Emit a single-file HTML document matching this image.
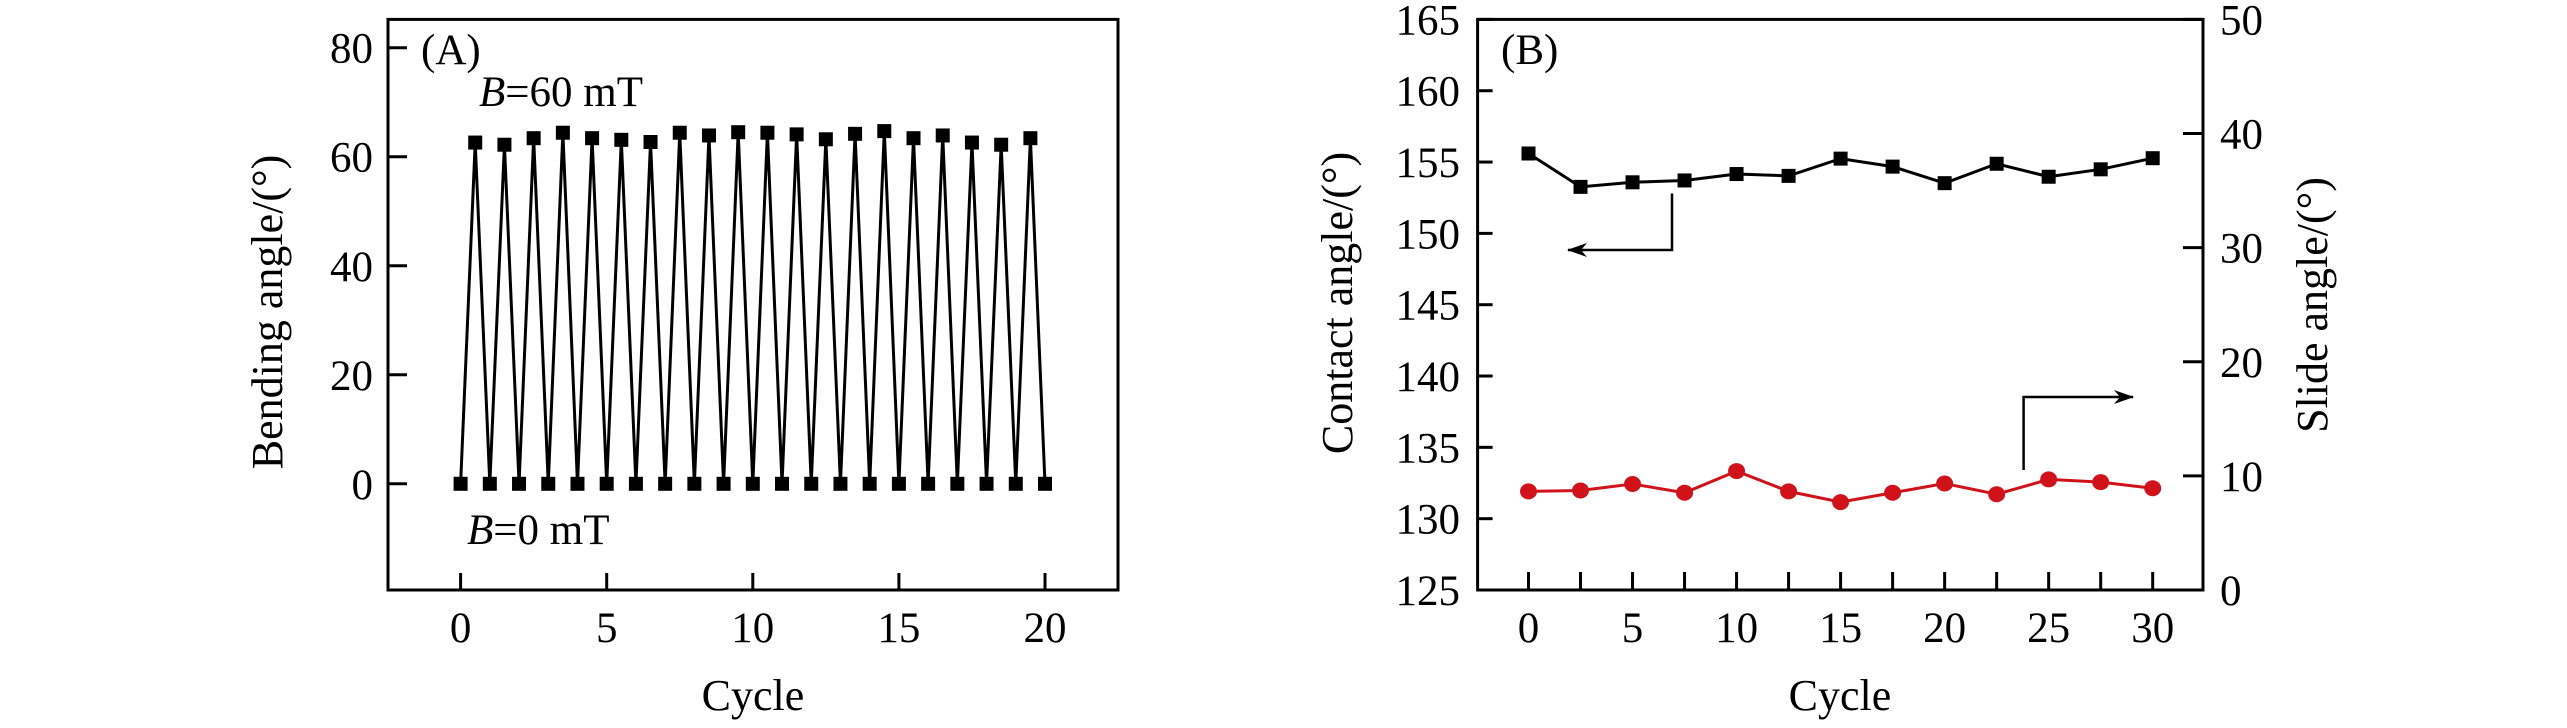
<!DOCTYPE html>
<html><head><meta charset="utf-8">
<style>
html,body{margin:0;padding:0;background:#fff;}
svg{display:block;}
text{font-family:"Liberation Serif","DejaVu Serif",serif;fill:#000;}
</style></head>
<body>
<svg id="fig" width="2567" height="728" viewBox="0 0 2567 728" xmlns="http://www.w3.org/2000/svg">
  <defs>
    <marker id="arr" viewBox="0 0 20 14" refX="19" refY="7" markerWidth="20" markerHeight="14" markerUnits="userSpaceOnUse" orient="auto">
      <path d="M0,0 L20,7 L0,14 L6,7 Z" fill="#000"/>
    </marker>
  </defs>
  <g id="panelA"></g>
  <g id="panelB"></g>
</svg>
<script>
// ---- Panel A data ----
const aCycles = [0,0.5,1,1.5,2,2.5,3,3.5,4,4.5,5,5.5,6,6.5,7,7.5,8,8.5,9,9.5,10,10.5,11,11.5,12,12.5,13,13.5,14,14.5,15,15.5,16,16.5,17,17.5,18,18.5,19,19.5,20];
const aBending = [0,62.6,0,62.2,0,63.4,0,64.4,0,63.4,0,63.1,0,62.7,0,64.4,0,63.9,0,64.5,0,64.4,0,64.1,0,63.2,0,64.2,0,64.7,0,63.4,0,63.9,0,62.6,0,62.2,0,63.4,0];
const aXTicks = [0,5,10,15,20];
const aYTicks = [0,20,40,60,80];
// ---- Panel B data ----
const bCycles = [0,2.5,5,7.5,10,12.5,15,17.5,20,22.5,25,27.5,30];
const bContact = [155.6,153.26,153.58,153.71,154.16,154.03,155.24,154.68,153.52,154.88,153.97,154.49,155.27];
const bSlide = [8.64,8.72,9.29,8.52,10.42,8.64,7.70,8.52,9.33,8.39,9.69,9.45,8.92];
const bXTicks = [0,5,10,15,20,25,30];
const bXMinor = [2.5,7.5,12.5,17.5,22.5,27.5];
const bYLeftTicks = [125,130,135,140,145,150,155,160,165];
const bYRightTicks = [0,10,20,30,40,50];

const NS = "http://www.w3.org/2000/svg";
const FS = 43, TFS = 44;
function mk(parent, tag, attrs, txt){
  const e = document.createElementNS(NS, tag);
  for (const k in attrs) e.setAttribute(k, attrs[k]);
  if (txt !== undefined) e.textContent = txt;
  parent.appendChild(e);
  return e;
}
function lin(d0,d1,r0,r1){ return v => r0 + (v-d0)*(r1-r0)/(d1-d0); }

// ================= Panel A =================
(function(){
  const g = document.getElementById('panelA');
  const L=388,R=1118,T=19.4,B=590;
  const x = lin(0,20,460.6,1045);
  const y = lin(0,80,483.8,47.7);
  const frame = mk(g,'rect',{x:L,y:T,width:R-L,height:B-T,fill:'none',stroke:'#000','stroke-width':3});
  
  
  aYTicks.forEach(v=>{
    const t = mk(g,'line',{x1:L,x2:L+19,y1:y(v),y2:y(v),stroke:'#000','stroke-width':3});
    
    
    const lb = mk(g,'text',{x:373,y:y(v)+15,'text-anchor':'end','font-size':FS},String(v));
    
    
  });
  aXTicks.forEach(v=>{
    const t = mk(g,'line',{x1:x(v),x2:x(v),y1:B,y2:B-17,stroke:'#000','stroke-width':3});
    
    
    const lb = mk(g,'text',{x:x(v),y:642,'text-anchor':'middle','font-size':FS},String(v));
    
    
  });
  const pts = aCycles.map((c,i)=>x(c)+','+y(aBending[i])).join(' ');
  const pl = mk(g,'polyline',{points:pts,fill:'none',stroke:'#000','stroke-width':3,'stroke-linejoin':'miter'});
  
  
  aCycles.forEach((c,i)=>{
    const m = mk(g,'rect',{x:x(c)-7,y:y(aBending[i])-7,width:14,height:14,fill:'#000'});
    
    
  });
  const xt = mk(g,'text',{x:753,y:710,'text-anchor':'middle','font-size':TFS},'Cycle');
  
  
  const yt = mk(g,'text',{x:0,y:0,'text-anchor':'middle','font-size':TFS,transform:'translate(282,312) rotate(-90)'},'Bending angle/(°)');
  
  
  const pa = mk(g,'text',{x:421,y:64,'font-size':FS},'(A)');
  
  
  const t1 = mk(g,'text',{x:479,y:106,'font-size':FS});
  
  
  mk(t1,'tspan',{'font-style':'italic'},'B');
  mk(t1,'tspan',{},'=60 mT');
  const t2 = mk(g,'text',{x:467,y:544,'font-size':FS});
  
  
  mk(t2,'tspan',{'font-style':'italic'},'B');
  mk(t2,'tspan',{},'=0 mT');
})();

// ================= Panel B =================
(function(){
  const g = document.getElementById('panelB');
  const L=1477.6,R=2203,T=19.4,B=590;
  const x = lin(0,30,1528.5,2152.7);
  const yl = lin(125,165,B,T);
  const yr = lin(0,50,B,T);
  const frame = mk(g,'rect',{x:L,y:T,width:R-L,height:B-T,fill:'none',stroke:'#000','stroke-width':3});
  
  
  bYLeftTicks.forEach(v=>{
    const t = mk(g,'line',{x1:L,x2:L+15,y1:yl(v),y2:yl(v),stroke:'#000','stroke-width':3});
    
    
    const lb = mk(g,'text',{x:1460,y:yl(v)+15,'text-anchor':'end','font-size':FS},String(v));
    
    
  });
  bYRightTicks.forEach(v=>{
    const t = mk(g,'line',{x1:R,x2:R-20,y1:yr(v),y2:yr(v),stroke:'#000','stroke-width':3});
    
    
    const lb = mk(g,'text',{x:2220,y:yr(v)+15,'text-anchor':'start','font-size':FS},String(v));
    
    
  });
  bXTicks.concat(bXMinor).forEach(v=>{
    const t = mk(g,'line',{x1:x(v),x2:x(v),y1:B,y2:B-18,stroke:'#000','stroke-width':3});
    
    
  });
  bXTicks.forEach(v=>{
    const lb = mk(g,'text',{x:x(v),y:642,'text-anchor':'middle','font-size':FS},String(v));
    
    
  });
  const p1 = mk(g,'polyline',{points:bCycles.map((c,i)=>x(c)+','+yl(bContact[i])).join(' '),fill:'none',stroke:'#000','stroke-width':3});
  
  
  bCycles.forEach((c,i)=>{
    const m = mk(g,'rect',{x:x(c)-7,y:yl(bContact[i])-7,width:14,height:14,fill:'#000'});
    
    
  });
  const p2 = mk(g,'polyline',{points:bCycles.map((c,i)=>x(c)+','+yr(bSlide[i])).join(' '),fill:'none',stroke:'#d0121b','stroke-width':3});
  
  
  bCycles.forEach((c,i)=>{
    const m = mk(g,'ellipse',{cx:x(c),cy:yr(bSlide[i]),rx:8.5,ry:8,fill:'#d0121b'});
    
    
  });
  const a1 = mk(g,'polyline',{points:'1672,193.5 1672,250 1568,250',fill:'none',stroke:'#000','stroke-width':2.5,'marker-end':'url(#arr)'});
  
  
  const a2 = mk(g,'polyline',{points:'2023.6,470 2023.6,397 2133,397',fill:'none',stroke:'#000','stroke-width':2.5,'marker-end':'url(#arr)'});
  
  
  const xt = mk(g,'text',{x:1840,y:710,'text-anchor':'middle','font-size':TFS},'Cycle');
  
  
  const yt = mk(g,'text',{x:0,y:0,'text-anchor':'middle','font-size':TFS,transform:'translate(1352,303) rotate(-90)'},'Contact angle/(°)');
  
  
  const yt2 = mk(g,'text',{x:0,y:0,'text-anchor':'middle','font-size':TFS,transform:'translate(2327,305) rotate(-90)'},'Slide angle/(°)');
  
  
  const pb = mk(g,'text',{x:1501,y:64,'font-size':FS},'(B)');
  
  
})();
</script>
</body></html>
